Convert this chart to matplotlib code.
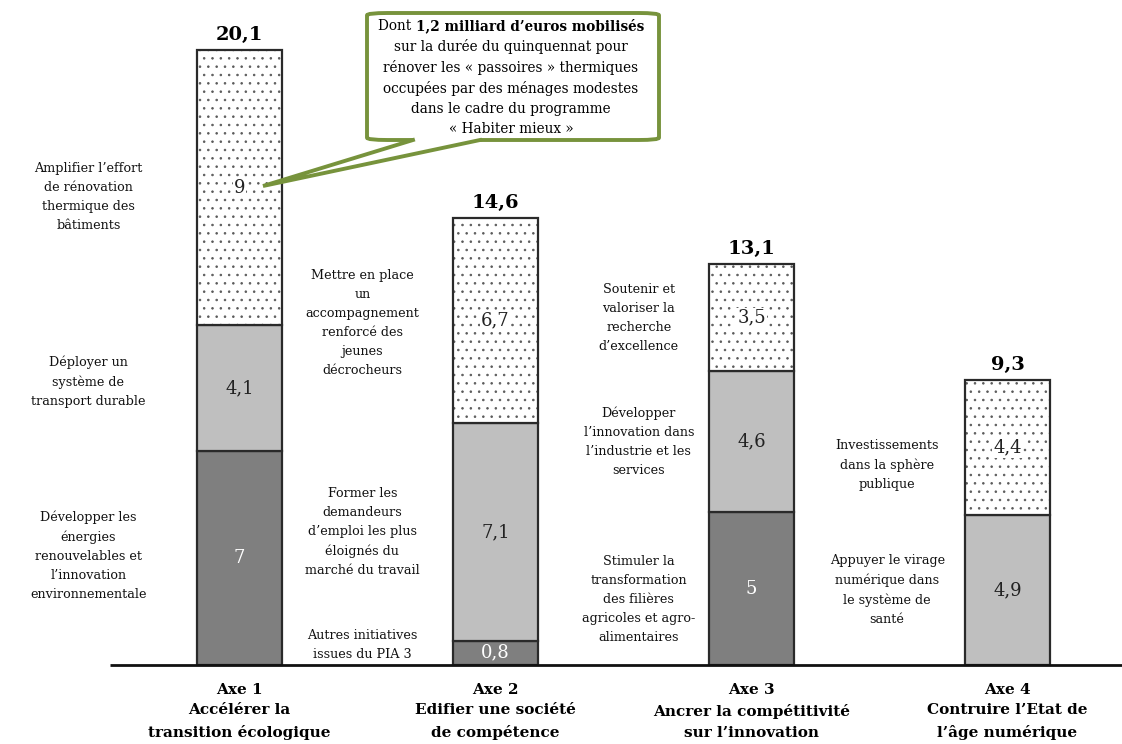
import matplotlib
matplotlib.use("Agg")
import matplotlib.pyplot as plt
from matplotlib.patches import FancyBboxPatch, Polygon

plt.rcParams['font.family'] = ['DejaVu Serif']
plt.rcParams['hatch.linewidth'] = 0.6

# Données (milliards d'euros)
axes_labels = ["Axe 1\nAccélérer la\ntransition écologique",
               "Axe 2\nEdifier une société\nde compétence",
               "Axe 3\nAncrer la compétitivité\nsur l’innovation",
               "Axe 4\nContruire l’Etat de\nl’âge numérique"]
seg_dark = [7, 0.8, 5, 0]
seg_light = [4.1, 7.1, 4.6, 4.9]
seg_dots = [9, 6.7, 3.5, 4.4]
totals = [20.1, 14.6, 13.1, 9.3]

lab_dark = ["Développer les\nénergies\nrenouvelables et\nl’innovation\nenvironnementale",
            "Autres initiatives\nissues du PIA 3",
            "Stimuler la\ntransformation\ndes filières\nagricoles et agro-\nalimentaires",
            None]
lab_light = ["Déployer un\nsystème de\ntransport durable",
             "Former les\ndemandeurs\nd’emploi les plus\néloignés du\nmarché du travail",
             "Développer\nl’innovation dans\nl’industrie et les\nservices",
             "Appuyer le virage\nnumérique dans\nle système de\nsanté"]
lab_dots = ["Amplifier l’effort\nde rénovation\nthermique des\nbâtiments",
            "Mettre en place\nun\naccompagnement\nrenforcé des\njeunes\ndécrocheurs",
            "Soutenir et\nvaloriser la\nrecherche\nd’excellence",
            "Investissements\ndans la sphère\npublique"]

fig = plt.figure(figsize=(11.22, 7.44), dpi=100)
ax = fig.add_axes([0, 0, 1, 1])
ax.set_axis_off()

# échelle : 256 px entre barres, 30.6 px par milliard
XS, YS = 256.0, 30.6
X0, Y0 = 239.5, 665.0
ax.set_xlim(-X0 / XS, (1122 - X0) / XS)
ax.set_ylim(-(744 - Y0) / YS, Y0 / YS)


def px(x, y):
    return (x - X0) / XS, (Y0 - y) / YS


def fmt(v):
    return f"{v:g}".replace(".", ",")


x = list(range(len(axes_labels)))
w = 85 / XS
edge = "#2a2a2a"

bottoms = [0] * 4
for vals, color, hatch, tcol in [(seg_dark, "#7f7f7f", None, "white"),
                                  (seg_light, "#bfbfbf", None, "#222222"),
                                  (seg_dots, "white", "..", "#222222")]:
    for i in x:
        v = vals[i]
        if v <= 0:
            continue
        if hatch:
            # pointillé gris, puis contour foncé par-dessus
            ax.bar(x[i], v, bottom=bottoms[i], width=w, color=color,
                   edgecolor="#5a5a5a", linewidth=0, hatch=hatch, zorder=2)
            ax.bar(x[i], v, bottom=bottoms[i], width=w, fill=False,
                   edgecolor=edge, linewidth=1.6, zorder=2.5)
        else:
            ax.bar(x[i], v, bottom=bottoms[i], width=w, color=color,
                   edgecolor=edge, linewidth=1.6, zorder=2)
        ax.text(x[i], bottoms[i] + v / 2, fmt(v), ha="center", va="center",
                fontsize=13, color=tcol, zorder=5,
                bbox=dict(boxstyle="square,pad=0.05", fc="white", ec="none")
                if hatch else None)
        bottoms[i] += v

# totaux au-dessus des barres
for i in x:
    ax.text(x[i], totals[i] + 0.2, fmt(totals[i]), ha="center", va="bottom",
            fontsize=14, fontweight="bold")

# libellés des sous-actions à gauche des barres (décalage vertical en px)
lab_x = [-0.59, -0.52, -0.44, -0.47]
nudge = [(-2, -6, 9), (-8, 0, 2), (11, 0, 0), (0, 0, 17)]
for i in x:
    b = 0
    for lab, v, dy in [(lab_dark[i], seg_dark[i], nudge[i][0]),
                       (lab_light[i], seg_light[i], nudge[i][1]),
                       (lab_dots[i], seg_dots[i], nudge[i][2])]:
        if lab:
            ax.text(x[i] + lab_x[i], b + v / 2 - dy / YS, lab, ha="center",
                    va="center", fontsize=9.2, linespacing=1.6, color="#111111")
        b += v

# axe horizontal
ax.plot([px(110, 0)[0], px(1122, 0)[0]], [0, 0], color="#111111", lw=2,
        zorder=3, solid_capstyle="butt")

# libellés des axes
for i in x:
    ax.text(x[i], -0.58, axes_labels[i], ha="center", va="top",
            fontsize=11, fontweight="bold", linespacing=1.6)

# bulle de commentaire
green = "#77933c"
bx0, by0 = px(367, 140)
bx1, by1 = px(659, 13)
box = FancyBboxPatch((bx0, by0), bx1 - bx0, by1 - by0,
                     boxstyle="round,pad=0,rounding_size=0.08",
                     mutation_aspect=YS / XS * 8,
                     fc="white", ec=green, lw=2.8, zorder=6)
ax.add_patch(box)
tip = px(263, 186)
p1 = px(413, 140)
p2 = px(480, 140)
ax.add_patch(Polygon([px(413, 137.5), p1, tip, p2, px(480, 137.5)],
                     closed=True, fc="white", ec="none", zorder=7))
ax.plot([p1[0], tip[0], p2[0]], [p1[1], tip[1], p2[1]], color=green,
        lw=2.8, zorder=8, solid_joinstyle="miter")

cx = px(511, 0)[0]
lines = ["sur la durée du quinquennat pour",
         "rénover les « passoires » thermiques",
         "occupées par des ménages modestes",
         "dans le cadre du programme",
         "« Habiter mieux »"]
for k, ln in enumerate(lines):
    ax.text(cx, px(0, 47 + 20.6 * k)[1], ln, ha="center", va="center",
            fontsize=9.8, zorder=9)

# première ligne : partie en gras
t1 = ax.text(0, px(0, 26)[1], "Dont ", ha="left", va="center",
             fontsize=9.8, zorder=9)
t2 = ax.text(0, px(0, 26)[1], "1,2 milliard d’euros mobilisés", ha="left",
             va="center", fontsize=9.8, fontweight="bold", zorder=9)
fig.canvas.draw()
r = fig.canvas.get_renderer()
w1 = t1.get_window_extent(r).width
w2 = t2.get_window_extent(r).width
start = 511 - (w1 + w2) / 2
t1.set_x(px(start, 0)[0])
t2.set_x(px(start + w1, 0)[0])

fig.savefig("out.png", dpi=100)
